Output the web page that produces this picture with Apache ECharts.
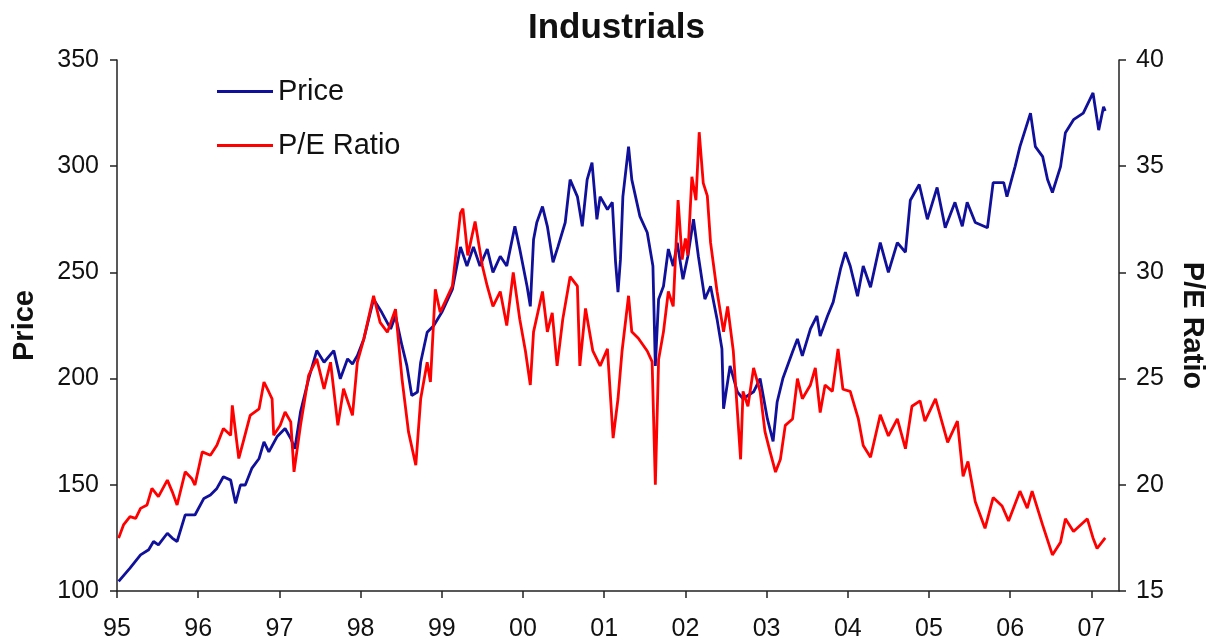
<!DOCTYPE html>
<html>
<head>
<meta charset="utf-8">
<title>Industrials</title>
<script src="https://cdn.jsdelivr.net/npm/echarts@6/dist/echarts.min.js"></script>
<style>
  html, body { margin: 0; padding: 0; background: #fff; }
  #chart { width: 1217px; height: 642px; }
</style>
</head>
<body>
<div id="chart"></div>
<script>
'use strict';

// values, x as fractional years
const priceYears = [
  1995.02, 1995.16, 1995.29, 1995.39, 1995.45, 1995.51, 1995.62, 1995.68, 1995.74, 1995.84,
  1995.96, 1996.07, 1996.15, 1996.23, 1996.31, 1996.40, 1996.46, 1996.52, 1996.58, 1996.66,
  1996.75, 1996.81, 1996.87, 1996.97, 1997.07, 1997.14, 1997.19, 1997.26, 1997.36, 1997.46,
  1997.55, 1997.67, 1997.75, 1997.84, 1997.90, 1997.96, 1998.04, 1998.16, 1998.26, 1998.37,
  1998.43, 1998.51, 1998.57, 1998.63, 1998.70, 1998.74, 1998.82, 1998.90, 1999.00, 1999.13,
  1999.23, 1999.31, 1999.39, 1999.47, 1999.56, 1999.63, 1999.72, 1999.80, 1999.90, 1999.96,
  2000.05, 2000.09, 2000.13, 2000.17, 2000.24, 2000.30, 2000.37, 2000.43, 2000.52, 2000.58,
  2000.67, 2000.73, 2000.79, 2000.85, 2000.91, 2000.95, 2001.04, 2001.10, 2001.14, 2001.17,
  2001.20, 2001.23, 2001.30, 2001.34, 2001.44, 2001.53, 2001.60, 2001.63, 2001.67, 2001.73,
  2001.79, 2001.85, 2001.90, 2001.97, 2002.03, 2002.10, 2002.16, 2002.24, 2002.31, 2002.39,
  2002.45, 2002.47, 2002.55, 2002.64, 2002.71, 2002.84, 2002.92, 2003.01, 2003.08, 2003.13,
  2003.20, 2003.32, 2003.38, 2003.44, 2003.54, 2003.62, 2003.66, 2003.75, 2003.82, 2003.91,
  2003.97, 2004.03, 2004.12, 2004.19, 2004.28, 2004.40, 2004.50, 2004.61, 2004.71, 2004.77,
  2004.88, 2004.98, 2005.10, 2005.20, 2005.32, 2005.41, 2005.47, 2005.57, 2005.72, 2005.79,
  2005.92, 2005.96, 2006.06, 2006.12, 2006.25, 2006.31, 2006.40, 2006.46, 2006.52, 2006.62,
  2006.68, 2006.78, 2006.90, 2007.02, 2007.09, 2007.15, 2007.17
];
const priceValues = [
  104.5, 110.8, 117, 119.4, 123.3, 121.7, 127.2, 124.9, 123.3, 135.8,
  135.8, 143.6, 145.2, 148.3, 153.8, 152.2, 141.3, 149.9, 149.9, 157.7,
  162.4, 170.2, 165.5, 172.6, 176.5, 171.8, 167, 184.3, 199.9, 213.2,
  207.7, 213.2, 199.9, 209.3, 206.9, 210.8, 218.7, 237.4, 231.2, 223.4,
  229.6, 215.5, 206.1, 192, 193.7, 207.7, 221.8, 224.9, 231.2, 242,
  262, 253, 262, 253, 261, 250, 257.6, 253, 271.7, 261,
  243.5, 234, 265.5, 273.5, 281, 271.7, 254.8, 262, 273.5, 293.7,
  285.7, 271.7, 293.7, 301.7, 275, 285.7, 279.6, 283, 254.8, 240.7,
  256, 285.7, 309.2, 293.7, 276.4, 268.8, 253, 206, 237.4, 243.5,
  261, 253, 264, 246.8, 257.6, 275, 257.6, 237.4, 243.5, 228,
  214, 185.8, 206, 193.8, 190.5, 193.8, 200, 181, 170.4, 189,
  200, 212.6, 218.7, 210.7, 223.4, 229.5, 220, 229.5, 236, 251.5,
  259.5, 253, 238.8, 253, 243, 264, 250, 264, 259.5, 284,
  291.4, 275, 290, 271, 283, 271.7, 283, 273.5, 271, 292.3,
  292.3, 285.7, 299.8, 309.2, 325, 309.2, 304.5, 293.7, 287.6, 299.8,
  315.8, 321.9, 325, 334.5, 317, 328, 326
];

const peYears = [
  1995.02, 1995.08, 1995.16, 1995.23, 1995.29, 1995.37, 1995.43, 1995.51, 1995.62, 1995.68,
  1995.74, 1995.84, 1995.92, 1995.96, 1996.05, 1996.15, 1996.23, 1996.31, 1996.40, 1996.42,
  1996.50, 1996.56, 1996.64, 1996.75, 1996.81, 1996.87, 1996.91, 1996.93, 1997.01, 1997.07,
  1997.14, 1997.18, 1997.26, 1997.36, 1997.46, 1997.55, 1997.63, 1997.72, 1997.79, 1997.90,
  1997.96, 1998.04, 1998.16, 1998.24, 1998.33, 1998.43, 1998.51, 1998.59, 1998.68, 1998.74,
  1998.82, 1998.86, 1998.92, 1998.98, 1999.13, 1999.23, 1999.26, 1999.32, 1999.41, 1999.50,
  1999.56, 1999.63, 1999.72, 1999.80, 1999.88, 1999.96, 2000.03, 2000.09, 2000.13, 2000.24,
  2000.30, 2000.36, 2000.42, 2000.49, 2000.58, 2000.67, 2000.70, 2000.77, 2000.86, 2000.95,
  2001.04, 2001.11, 2001.17, 2001.22, 2001.30, 2001.34, 2001.42, 2001.53, 2001.59, 2001.63,
  2001.67, 2001.73, 2001.79, 2001.85, 2001.91, 2001.96, 2002.00, 2002.03, 2002.08, 2002.13,
  2002.17, 2002.22, 2002.27, 2002.31, 2002.39, 2002.47, 2002.52, 2002.59, 2002.68, 2002.71,
  2002.77, 2002.84, 2002.92, 2002.98, 2003.04, 2003.11, 2003.17, 2003.23, 2003.32, 2003.38,
  2003.44, 2003.54, 2003.60, 2003.66, 2003.72, 2003.81, 2003.88, 2003.94, 2004.03, 2004.13,
  2004.19, 2004.28, 2004.40, 2004.50, 2004.61, 2004.71, 2004.79, 2004.89, 2004.95, 2005.08,
  2005.23, 2005.35, 2005.42, 2005.48, 2005.57, 2005.69, 2005.79, 2005.90, 2005.98, 2006.12,
  2006.21, 2006.27, 2006.40, 2006.52, 2006.62, 2006.68, 2006.78, 2006.95, 2007.02, 2007.07,
  2007.17
];
const peValues = [
  17.49, 18.11, 18.5, 18.42, 18.89, 19.05, 19.83, 19.44, 20.22, 19.68,
  19.05, 20.61, 20.3, 19.99, 21.55, 21.39, 21.86, 22.65, 22.33, 23.74,
  21.24, 22.1, 23.27, 23.58, 24.84, 24.37, 24.05, 22.33, 22.8, 23.43,
  22.96, 20.61, 22.8, 25.15, 25.93, 24.52, 25.77, 22.8, 24.52, 23.27,
  25.77, 26.87, 28.9, 27.65, 27.18, 28.27, 24.99, 22.49, 20.92, 24.05,
  25.77, 24.84, 29.2, 28.12, 29.35, 32.8, 33.0, 30.8, 32.4, 30.3,
  29.35, 28.4, 29.1, 27.5, 30.0, 27.8, 26.3, 24.7, 27.2, 29.1,
  27.2, 28.1, 25.6, 27.8, 29.8, 29.35, 25.6, 28.3, 26.3, 25.6,
  26.4, 22.2, 24.05, 26.3, 28.9, 27.2, 26.9, 26.3, 25.8, 20.0,
  25.9, 27.2, 29.1, 28.4, 33.4, 30.6, 31.6, 30.8, 34.5, 33.4,
  36.6, 34.2, 33.6, 31.4, 29.1, 27.2, 28.4, 26.3, 21.2, 24.4,
  23.7, 25.5, 24.4, 22.5, 21.6, 20.6, 21.2, 22.8, 23.1, 25.0,
  24.05, 24.7, 25.5, 23.4, 24.7, 24.4, 26.4, 24.5, 24.4, 23.1,
  21.85, 21.3, 23.3, 22.3, 23.1, 21.7, 23.7, 23.95, 23.0, 24.05,
  22.0, 23.0, 20.4, 21.1, 19.2, 17.95, 19.4, 19.0, 18.3, 19.7,
  18.9, 19.7, 18.1, 16.7, 17.3, 18.4, 17.8, 18.4, 17.5, 17.0,
  17.5
];

const seriesNames = ['Price', 'P/E Ratio'];

function zip(xs, ys) {
  return xs.map(function(x, i) { return [x, ys[i]]; });
}

const font = 'Liberation Sans, Arial, sans-serif';
const ink = '#111';
const axisColor = '#222';

let chart = echarts.init(document.getElementById('chart'), null, { renderer: 'canvas' });

chart.setOption({
  backgroundColor: '#fff',
  animation: false,
  title: {
    text: 'Industrials',
    left: 523,
    top: 6,
    textStyle: { fontFamily: font, fontSize: 35, fontWeight: 'bold', color: ink }
  },
  legend: {
    data: seriesNames,
    orient: 'vertical',
    left: 212,
    top: 72,
    icon: 'rect',
    itemWidth: 56,
    itemHeight: 3,
    itemGap: 25,
    textStyle: { fontFamily: font, fontSize: 29, color: ink }
  },
  grid: { left: 117, right: 98, top: 60, bottom: 49 },
  xAxis: {
    type: 'value',
    min: 1995,
    max: 2007.34,
    interval: 1,
    splitLine: { show: false },
    axisLine: { lineStyle: { color: axisColor, width: 1.5 } },
    axisTick: { length: 7, lineStyle: { color: axisColor, width: 1.5 } },
    axisLabel: {
      margin: 26,
      fontFamily: font,
      fontSize: 25,
      color: ink,
      showMaxLabel: false,
      formatter: function(v) {
        return Number.isInteger(v) ? String(v).slice(2) : '';
      }
    }
  },
  yAxis: [
    {
      type: 'value',
      name: 'Price',
      nameLocation: 'middle',
      nameGap: 78,
      nameTextStyle: { fontFamily: font, fontSize: 29, fontWeight: 'bold', color: ink },
      min: 100,
      max: 350,
      interval: 50,
      splitLine: { show: false },
      axisLine: { show: true, lineStyle: { color: axisColor, width: 1.5 } },
      axisTick: { show: true, length: 7, lineStyle: { color: axisColor, width: 1.5 } },
      axisLabel: { margin: 18, fontFamily: font, fontSize: 25, color: ink }
    },
    {
      type: 'value',
      name: 'P/E Ratio',
      nameLocation: 'middle',
      nameGap: 58,
      nameRotate: -90,
      nameTextStyle: { fontFamily: font, fontSize: 29, fontWeight: 'bold', color: ink },
      position: 'right',
      min: 15,
      max: 40,
      interval: 5,
      splitLine: { show: false },
      axisLine: { show: true, lineStyle: { color: axisColor, width: 1.5 } },
      axisTick: { show: true, length: 7, lineStyle: { color: axisColor, width: 1.5 } },
      axisLabel: { margin: 17, fontFamily: font, fontSize: 25, color: ink }
    }
  ],
  series: [
    {
      name: seriesNames[0],
      type: 'line',
      yAxisIndex: 0,
      showSymbol: false,
      data: zip(priceYears, priceValues),
      itemStyle: { color: '#10109a' },
      lineStyle: { color: '#10109a', width: 2.8 }
    },
    {
      name: seriesNames[1],
      type: 'line',
      yAxisIndex: 1,
      showSymbol: false,
      data: zip(peYears, peValues),
      itemStyle: { color: '#ff0000' },
      lineStyle: { color: '#ff0000', width: 2.8 }
    }
  ]
});
</script>
</body>
</html>
